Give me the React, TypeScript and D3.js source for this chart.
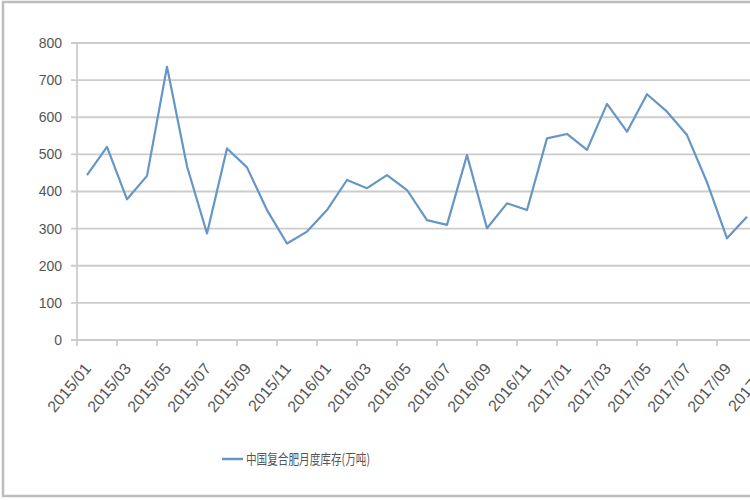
import React, { useEffect, useRef } from 'react';
import * as d3 from 'd3';

// months shown on the category axis (chart is cropped on the right)
const months: string[] = [
    '2015/01', '2015/02', '2015/03', '2015/04', '2015/05', '2015/06',
    '2015/07', '2015/08', '2015/09', '2015/10', '2015/11', '2015/12',
    '2016/01', '2016/02', '2016/03', '2016/04', '2016/05', '2016/06',
    '2016/07', '2016/08', '2016/09', '2016/10', '2016/11', '2016/12',
    '2017/01', '2017/02', '2017/03', '2017/04', '2017/05', '2017/06',
    '2017/07', '2017/08', '2017/09', '2017/10', '2017/11', '2017/12',
];

// 中国复合肥月度库存 (万吨), 2015/01 .. 2017/10
const stock: number[] = [
    444, 520, 379, 442, 736, 468, 287, 516, 465, 350, 260, 292,
    350, 431, 409, 444, 404, 323, 310, 498, 301, 368, 350, 543,
    555, 512, 636, 561, 662, 615, 552, 425, 274, 332,
];

const yTicks: number[] = [0, 100, 200, 300, 400, 500, 600, 700, 800];
const seriesName = '中国复合肥月度库存(万吨)';

export default function App() {
    const svgRef = useRef<SVGSVGElement>(null);

    useEffect(() => {
        if (!svgRef.current) return;
        const svg = d3.select(svgRef.current);
        svg.selectAll('*').remove();

        const axisColor = '#cccccc';
        const textColor = '#555555';
        const lineColor = '#6596c6';
        const numFont = '"Liberation Sans", Arial, sans-serif';

        const left = 77;
        const step = 20;

        const x = d3.scaleBand()
            .domain(months)
            .range([left, left + months.length * step])
            .padding(0);

        const y = d3.scaleLinear()
            .domain([0, 800])
            .range([340, 43]);

        // outer frame
        svg.append('rect')
            .attr('x', 3)
            .attr('y', 2)
            .attr('width', 820)
            .attr('height', 494)
            .attr('fill', '#fff')
            .attr('stroke', '#bdbdbd')
            .attr('stroke-width', 2.5);

        // gridlines + y labels
        const gy = svg.append('g');
        gy.selectAll('line')
            .data(yTicks)
            .join('line')
            .attr('x1', left - 6)
            .attr('x2', 820)
            .attr('y1', d => y(d))
            .attr('y2', d => y(d))
            .attr('stroke', axisColor)
            .attr('stroke-width', 1.8);

        gy.selectAll('text')
            .data(yTicks)
            .join('text')
            .attr('x', 62)
            .attr('y', d => y(d))
            .attr('dy', '0.35em')
            .attr('text-anchor', 'end')
            .attr('font-family', numFont)
            .attr('font-size', 14)
            .attr('fill', textColor)
            .text(d => d);

        // y axis line
        svg.append('line')
            .attr('x1', left)
            .attr('x2', left)
            .attr('y1', y(800))
            .attr('y2', y(0))
            .attr('stroke', axisColor)
            .attr('stroke-width', 1.8);

        // x ticks every two months, at category boundaries
        const labelled = months.filter((_, i) => i % 2 === 0);
        svg.append('g')
            .selectAll('line')
            .data(labelled)
            .join('line')
            .attr('x1', d => x(d)!)
            .attr('x2', d => x(d)!)
            .attr('y1', y(0))
            .attr('y2', y(0) + 6)
            .attr('stroke', axisColor)
            .attr('stroke-width', 1.8);

        // rotated x labels
        svg.append('g')
            .selectAll('text')
            .data(labelled)
            .join('text')
            .attr('transform', d => `translate(${x(d)! + step / 2 + 5},${y(0) + 29}) rotate(-50)`)
            .attr('text-anchor', 'end')
            .attr('font-family', numFont)
            .attr('font-size', 16)
            .attr('fill', textColor)
            .text(d => d);

        // series line
        const line = d3.line<number>()
            .x((_, i) => x(months[i])! + step / 2)
            .y(d => y(d));

        svg.append('path')
            .datum(stock)
            .attr('d', line)
            .attr('fill', 'none')
            .attr('stroke', lineColor)
            .attr('stroke-width', 2.2)
            .attr('stroke-linejoin', 'round');

        // legend
        svg.append('line')
            .attr('x1', 222)
            .attr('x2', 243)
            .attr('y1', 459)
            .attr('y2', 459)
            .attr('stroke', lineColor)
            .attr('stroke-width', 2.5);

        svg.append('text')
            .attr('x', 246)
            .attr('y', 459)
            .attr('dy', '0.35em')
            .attr('font-family', '"Noto Sans CJK SC", sans-serif')
            .attr('font-size', 14)
            .attr('textLength', 124)
            .attr('lengthAdjust', 'spacingAndGlyphs')
            .attr('fill', textColor)
            .text(seriesName);
    }, []);

    return (
        <div style={{ position: 'fixed', left: 0, top: 0, width: 750, height: 500, background: '#fff' }}>
            <svg ref={svgRef} width={750} height={500} style={{ display: 'block' }} />
        </div>
    );
}
